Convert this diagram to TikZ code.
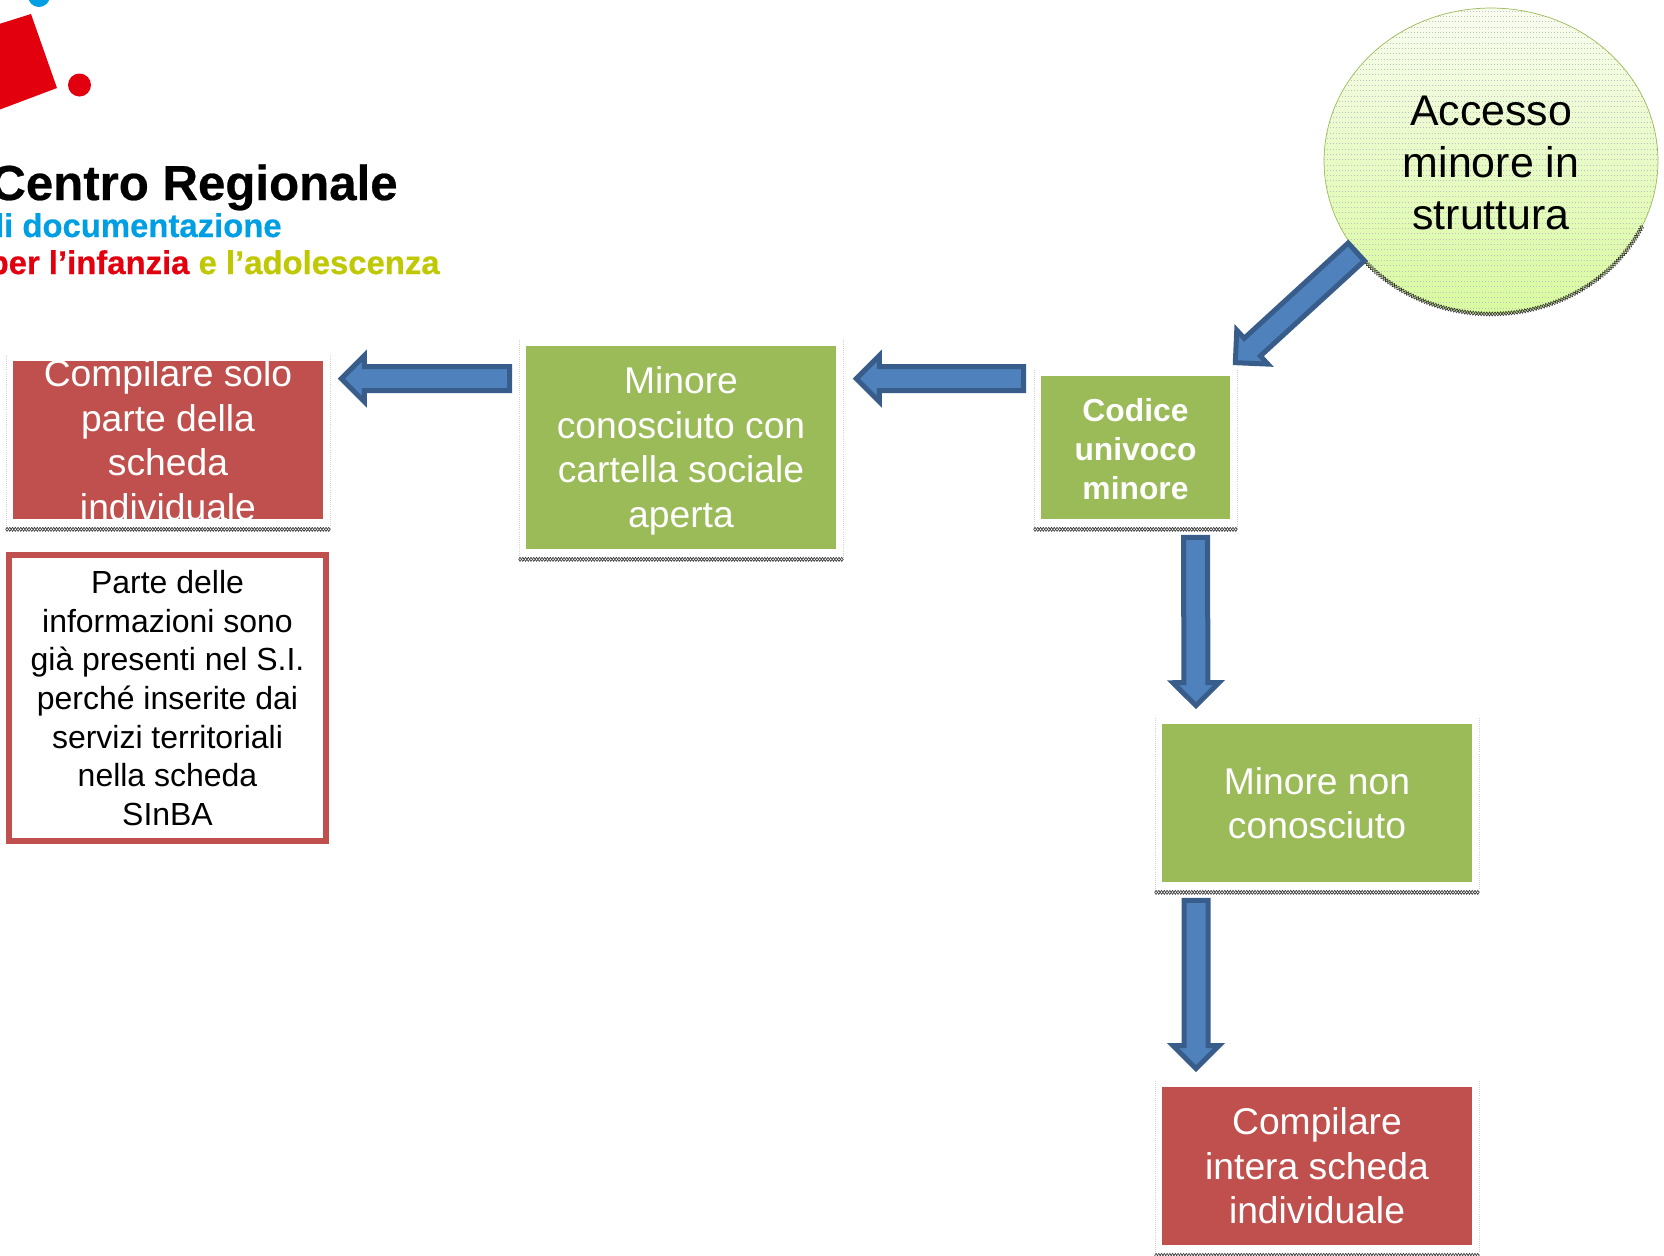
\documentclass[tikz,border=0pt]{standalone}
\usepackage{fontspec}
\setmainfont{Liberation Sans}
\newfontfamily\logofont{Liberation Sans Bold}[FakeBold=0.5]
\usepackage{xcolor}
\usetikzlibrary{shapes.geometric, calc, decorations.pathmorphing}
\definecolor{boxgreen}{HTML}{9BBB59}
\definecolor{boxred}{HTML}{C0504D}
\definecolor{arrowfill}{HTML}{4F81BD}
\definecolor{arrowedge}{HTML}{385D8A}
\definecolor{ovaltop}{HTML}{F8FCEF}
\definecolor{ovalbottom}{HTML}{D8FA9E}
\definecolor{logored}{HTML}{E2000F}
\definecolor{logoblue}{HTML}{009FE3}
\definecolor{logolime}{HTML}{BFC800}
\newcommand{\bodyhalf}{.24cm}
\newcommand{\headhalf}{.46cm}
\newcommand{\headlen}{.46cm}

\begin{document}
\begin{tikzpicture}[
        x=0.02cm, y=-0.02cm,
        stepbox/.style={rectangle, inner xsep=0pt, inner ysep=-.3cm, text=white, align=center, minimum width=6.2cm, minimum height=3.16cm, font=\fontsize{21.2}{25.4}\selectfont},
        greenbox/.style={stepbox, fill=boxgreen},
        redbox/.style={stepbox, fill=boxred},
        boxtext/.style={inner sep=0pt, text=white, align=center, font=\fontsize{21.2}{25.4}\selectfont},
        notebox/.style={rectangle, draw=boxred, line width=.11cm, inner sep=0pt, align=center, minimum width=6.34cm, minimum height=5.72cm, font=\fontsize{18.2}{22}\selectfont},
        oval/.style={ellipse, draw=boxgreen, thin, inner sep=0pt, minimum width=6.68cm, minimum height=6.12cm, top color=ovaltop, bottom color=ovalbottom},
        logotext/.style={anchor=base east, inner sep=0pt},
        hatchline/.style={gray!50, line width=.15pt, dash pattern=on .5pt off 1.2pt},
        frameside/.style={gray!35, very thin, densely dotted},
        zig/.style={black!80, line width=.35pt, decorate, decoration={zigzag, segment length=.11cm, amplitude=.04cm}},
        zigb/.style={zig, decoration={mirror}},
        blockarrow/.style={draw=arrowedge, fill=arrowfill, line width=.1cm, to path={
            -- ($(\tikztostart)!\bodyhalf!90:(\tikztotarget)$)
            -- ($($(\tikztotarget)!\headlen!(\tikztostart)$)!\bodyhalf!90:(\tikztotarget)$)
            -- ($($(\tikztotarget)!\headlen!(\tikztostart)$)!\headhalf!90:(\tikztotarget)$)
            -- (\tikztotarget)
            -- ($($(\tikztotarget)!\headlen!(\tikztostart)$)!\headhalf!-90:(\tikztotarget)$)
            -- ($($(\tikztotarget)!\headlen!(\tikztostart)$)!\bodyhalf!-90:(\tikztotarget)$)
            -- ($(\tikztostart)!\bodyhalf!-90:(\tikztotarget)$)
            -- cycle}}
    ]
        \useasboundingbox (0,0) rectangle (1664,1255);

        % Logo
        \fill[logored] (31,14) -- (57,88) -- (-20,117) -- (-20,30) -- cycle;
        \fill[logored] (79.5,85) circle[radius=11.5];
        \fill[logoblue] (39,-4) circle[radius=11];
        \node[logotext, text=black] (logoa) at (398,200) {\logofont\fontsize{28}{28}\selectfont Centro Regionale};
        \node[logotext, text=logoblue] (logob) at (282,237) {\logofont\fontsize{18.7}{20}\selectfont di documentazione};
        \node[logotext] (logoc) at (440,274) {\logofont\fontsize{18.7}{20}\selectfont\textcolor{logored}{per l’infanzia} \textcolor{logolime}{e l’adolescenza}};

        % Boxes
        \node[oval, path picture={
            \foreach \dy in {-150,-144.7,...,150}
                \draw[hatchline] ($(path picture bounding box.center)+(-170,\dy)$) -- +(340,0);
        }] (acc) at (1491,161) {};
        \node[boxtext, text=black, font=\fontsize{24.4}{29.6}\selectfont] (acct) at (1491,162.6) {Accesso\\minore in\\struttura};
        \node[greenbox, minimum width=3.78cm, minimum height=2.86cm] (cod) at (1135.5,447.5) {};
        \node[boxtext, font=\fontsize{18.1}{22}\selectfont\bfseries] (codt) at (1135.5,449) {Codice\\univoco\\minore};
        \node[greenbox, minimum height=4.06cm] (cono) at (681,447.5) {};
        \node[boxtext] (conot) at (681,450.7) {Minore\\conosciuto con\\cartella sociale\\aperta};
        \node[redbox] (solo) at (168,440) {Compilare solo\\parte della\\scheda\\individuale};
        \node[notebox] (note) at (167.5,698) {Parte delle\\informazioni sono\\già presenti nel S.I.\\perché inserite dai\\servizi territoriali\\nella scheda\\SInBA};
        \node[greenbox] (nonc) at (1317,803) {Minore non\\conosciuto};
        \node[redbox] (inte) at (1317,1166) {Compilare\\intera scheda\\individuale};

        % Frames under the boxes
        \foreach \b in {cod, cono, solo, nonc, inte} {
            \draw[frameside] ($(\b.north west)+(-7,-6)$) -- ($(\b.south west)+(-7,10)$);
            \draw[frameside] ($(\b.north east)+(7,-6)$) -- ($(\b.south east)+(7,10)$);
            \draw[zig] ($(\b.south west)+(-7,10)$) -- ($(\b.south east)+(7,10)$);
            \draw[zigb] ($(\b.south west)+(-7,10)$) -- ($(\b.south east)+(7,10)$);
        }
        \draw[zig] (acc.center) ++(140:167 and 153) arc[start angle=140, end angle=25, x radius=167, y radius=153];
        \draw[zigb] (acc.center) ++(140:167 and 153) arc[start angle=140, end angle=25, x radius=167, y radius=153];

        % Arrows
        \coordinate (accs) at (acc.214);
        \coordinate (codn) at ($(cod.north east)+(5,-13)$);
        \coordinate (codw) at ($(cod.north west)+(-17,3)$);
        \coordinate (conoe) at ($(cono.north east)+(20,33)$);
        \coordinate (conow) at ($(cono.north west)+(-16,33)$);
        \coordinate (soloe) at ($(solo.north east)+(18,18)$);
        \coordinate (cods) at ($(cod.south)+(60,18)$);
        \coordinate (noncn) at ($(nonc.north)+(-121,-18)$);
        \coordinate (noncs) at ($(nonc.south)+(-121,18)$);
        \coordinate (inten) at ($(inte.north)+(-121,-18)$);
        \draw[blockarrow] (accs) to (codn);
        \draw[blockarrow] (codw) to (conoe);
        \draw[blockarrow] (conow) to (soloe);
        \draw[blockarrow] (cods) to (noncn);
        \draw[blockarrow] (noncs) to (inten);
    \end{tikzpicture}
\end{document}
